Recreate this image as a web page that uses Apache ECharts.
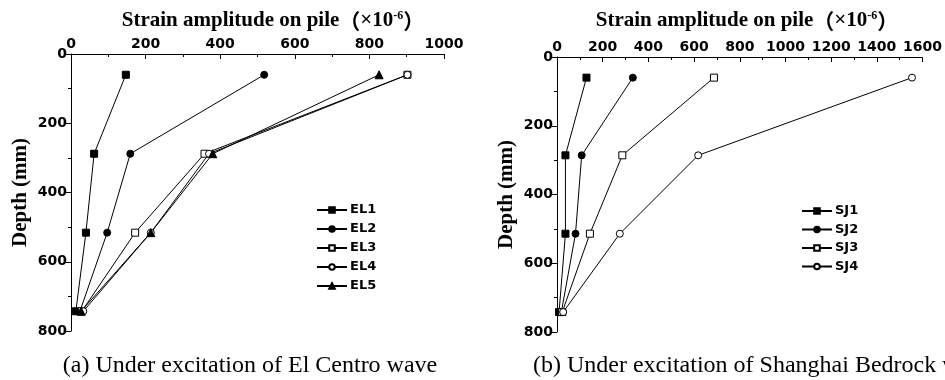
<!DOCTYPE html>
<html>
<head>
<meta charset="utf-8">
<title>Strain amplitude on pile</title>
<script src="https://cdn.jsdelivr.net/npm/echarts@6/dist/echarts.min.js"></script>
<style>
    html, body { margin: 0; padding: 0; background: #fff; }
    #main { width: 945px; height: 380px; }
</style>
</head>
<body>
<div id="main"></div>
<script>
// 数据
var depthLeft = [60, 288, 516, 743];
var depthRight = [60, 286, 514, 742];
var namesLeft = ['EL1', 'EL2', 'EL3', 'EL4', 'EL5'];
var namesRight = ['SJ1', 'SJ2', 'SJ3', 'SJ4'];
var EL1 = [147, 62, 40, 13];
var EL2 = [518, 159, 97, 24];
var EL3 = [902, 358, 172, 29];
var EL4 = [902, 370, 214, 33];
var EL5 = [826, 380, 214, 27];
var SJ1 = [129, 37, 37, 9];
var SJ2 = [332, 108, 81, 19];
var SJ3 = [687, 286, 144, 23];
var SJ4 = [1554, 618, 275, 27];
var xTicksLeft = [0, 1000, 200];
var xTicksRight = [0, 1600, 200];
var yTicks = [0, 800, 200];

(function () {
    let myChart = echarts.init(document.getElementById('main'));

    var pairs = function (xs, ys) {
        return xs.map(function (v, i) { return [v, ys[i]]; });
    };

    // 点的样式
    var filled = { color: '#000', borderColor: '#000', borderWidth: 1 };
    var hollow = { color: '#fff', borderColor: '#000', borderWidth: 1 };

    var mkSeries = function (name, xs, ys, idx, symbol, size, style) {
        return {
            name: name,
            type: 'line',
            xAxisIndex: idx,
            yAxisIndex: idx,
            data: pairs(xs, ys),
            symbol: symbol,
            symbolSize: size,
            showSymbol: true,
            lineStyle: { color: '#000', width: 1 },
            itemStyle: style,
            emphasis: { disabled: true },
            z: 3
        };
    };

    // 刻度文字：不要千分位逗号
    var tickFont = {
        color: '#000',
        fontFamily: 'DejaVu Sans',
        fontWeight: 'bold',
        fontSize: 14,
        formatter: function (v) { return String(v); }
    };

    var xAxisCommon = function (idx, ticks) {
        return {
            type: 'value',
            gridIndex: idx,
            position: 'top',
            min: ticks[0],
            max: ticks[1],
            interval: ticks[2],
            axisLine: { show: true, lineStyle: { color: '#000', width: 1 } },
            axisTick: { show: true, inside: true, length: 5, lineStyle: { color: '#000' } },
            minorTick: { show: true, splitNumber: 2, length: 3, lineStyle: { color: '#000' } },
            splitLine: { show: false },
            axisLabel: Object.assign({}, tickFont, { margin: 3, showMaxLabel: true, showMinLabel: true, hideOverlap: false })
        };
    };

    var yAxisCommon = function (idx) {
        return {
            type: 'value',
            gridIndex: idx,
            inverse: true,
            min: yTicks[0],
            max: yTicks[1],
            interval: yTicks[2],
            name: 'Depth (mm)',
            nameLocation: 'middle',
            nameRotate: 90,
            nameGap: 40,
            nameTextStyle: {
                color: '#000',
                fontFamily: 'Liberation Serif',
                fontWeight: 'bold',
                fontSize: 21
            },
            axisLine: { show: true, lineStyle: { color: '#000', width: 1 } },
            axisTick: { show: true, inside: false, length: 5, lineStyle: { color: '#000' } },
            minorTick: { show: true, splitNumber: 2, length: 3, lineStyle: { color: '#000' } },
            splitLine: { show: false },
            axisLabel: Object.assign({}, tickFont, { margin: 4 })
        };
    };

    var titleRich = {
        b: { fontFamily: 'Liberation Serif', fontWeight: 'bold', fontSize: 21, color: '#000' },
        p: { fontFamily: 'Noto Sans CJK SC', fontSize: 21, color: '#000' },
        x: { fontFamily: 'Liberation Serif', fontSize: 21, color: '#000' },
        sup: { fontFamily: 'Liberation Serif', fontWeight: 'bold', fontSize: 12, color: '#000', verticalAlign: 'top', padding: [0, 0, 10, 0] }
    };
    var titleText = '{b|Strain amplitude on pile}{p|（}{x|×10}{sup|-6}{p|）}';

    var legendCommon = {
        orient: 'vertical',
        itemWidth: 30,
        itemHeight: 7,
        selectedMode: false,
        textStyle: {
            color: '#000',
            fontFamily: 'DejaVu Sans',
            fontWeight: 'bold',
            fontSize: 13,
            lineHeight: 14,
            padding: [0, 0, 0, -2]
        }
    };

    let option = {
        animation: false,
        backgroundColor: '#fff',
        title: [
            { text: titleText, left: 268, top: 5, textAlign: 'center', textStyle: { rich: titleRich } },
            { text: titleText, left: 742, top: 5, textAlign: 'center', textStyle: { rich: titleRich } },
            {
                text: '(a) Under excitation of El Centro wave',
                left: 245, top: 349, textAlign: 'center',
                textStyle: { fontFamily: 'Liberation Serif', fontWeight: 'normal', fontSize: 24, color: '#000' }
            },
            {
                text: '(b) Under excitation of Shanghai Bedrock wave',
                left: 528, top: 349,
                textStyle: { fontFamily: 'Liberation Serif', fontWeight: 'normal', fontSize: 24, color: '#000' }
            }
        ],
        legend: [
            Object.assign({}, legendCommon, { data: namesLeft, left: 311, top: 198, itemGap: 5 }),
            Object.assign({}, legendCommon, { data: namesRight, left: 796, top: 199, itemGap: 4.5 })
        ],
        grid: [
            { left: 71, top: 54, width: 373, height: 277 },
            { left: 557, top: 57, width: 371, height: 275 }
        ],
        xAxis: [xAxisCommon(0, xTicksLeft), xAxisCommon(1, xTicksRight)],
        yAxis: [yAxisCommon(0), yAxisCommon(1)],
        series: [
            mkSeries('EL1', EL1, depthLeft, 0, 'rect', 7, filled),
            mkSeries('EL2', EL2, depthLeft, 0, 'circle', 7, filled),
            mkSeries('EL3', EL3, depthLeft, 0, 'rect', 7, hollow),
            mkSeries('EL4', EL4, depthLeft, 0, 'circle', 7, hollow),
            mkSeries('EL5', EL5, depthLeft, 0, 'triangle', 8, filled),
            mkSeries('SJ1', SJ1, depthRight, 1, 'rect', 7, filled),
            mkSeries('SJ2', SJ2, depthRight, 1, 'circle', 7, filled),
            mkSeries('SJ3', SJ3, depthRight, 1, 'rect', 7, hollow),
            mkSeries('SJ4', SJ4, depthRight, 1, 'circle', 7, hollow)
        ]
    };
    myChart.setOption(option);
    window.addEventListener('resize', function () {
        myChart.resize();
    })
})();
</script>
</body>
</html>
